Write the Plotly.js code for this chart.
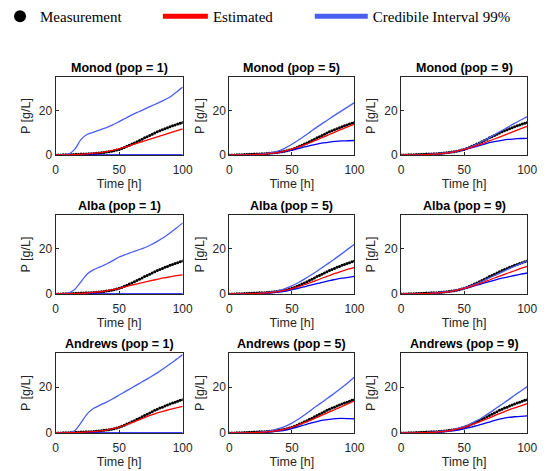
<!DOCTYPE html>
<html>
<head>
<meta charset="utf-8">
<script src="https://cdn.plot.ly/plotly-3.0.1.min.js"></script>
<style>html,body{margin:0;padding:0;background:#fff;}#chart{width:554px;height:471px;}</style>
</head>
<body>
<div id="chart"></div>
<script>
// ---- data ----
const panelTitles = ["Monod (pop = 1)", "Monod (pop = 5)", "Monod (pop = 9)",
                     "Alba (pop = 1)", "Alba (pop = 5)", "Alba (pop = 9)",
                     "Andrews (pop = 1)", "Andrews (pop = 5)", "Andrews (pop = 9)"];
const xTicks = [0, 50, 100];
const yTicks = [0, 20];

// measurement (same in every panel)
const tMeas = [0,2,4,6,8,10,12,14,16,18,20,22,24,26,28,30,32,34,36,38,40,42,44,46,48,50,
               52,54,56,58,60,62,64,66,68,70,72,74,76,78,80,82,84,86,88,90,92,94,96,98,100];
const pMeas = [0,0,0.05,0.1,0.1,0.15,0.2,0.25,0.3,0.35,0.4,0.45,0.5,0.55,0.6,0.7,0.8,0.9,1.0,1.15,1.3,1.45,1.65,1.9,2.2,2.5,
               2.9,3.4,3.9,4.4,4.9,5.4,6.0,6.5,7.1,7.7,8.2,8.8,9.3,9.9,10.4,10.9,11.3,11.8,12.2,12.7,13.1,13.5,13.9,14.3,14.6];

// model time grid
const tLine = [0,5,10,15,20,25,30,35,40,45,50,55,60,65,70,75,80,85,90,95,100];

// Monod
const monod1Est = [0,0.05,0.1,0.2,0.35,0.5,0.8,1.1,1.5,2.1,2.8,3.6,4.5,5.4,6.3,7.2,8.1,9.0,9.9,10.8,11.7];
const monod1Lo  = [0,0,0,0,0,0,0,0,0,0,0,0,0,0,0,0,0,0,0,0,0];
const monod1Hi  = [0,0,0.3,2.5,7,9.3,10.3,11.3,12.3,13.5,15,16.5,18,19.3,20.6,21.9,23.2,24.5,26,28.2,30.5];
const monod5Est = [0,0.02,0.05,0.1,0.2,0.3,0.5,0.8,1.2,1.8,2.6,3.5,4.5,5.6,6.8,8,9.2,10.4,11.6,12.7,13.8];
const monod5Lo  = [0,0,0.05,0.1,0.2,0.3,0.5,0.8,1.1,1.6,2.2,2.9,3.6,4.3,4.9,5.4,5.8,6.1,6.3,6.4,6.5];
const monod5Hi  = [0,0,0.05,0.1,0.2,0.4,0.7,1.2,2,3.2,4.8,6.6,8.5,10.5,12.5,14.4,16.3,18.1,19.9,21.7,23.5];
const monod9Est = [0,0,0.05,0.1,0.2,0.35,0.5,0.8,1.2,1.8,2.5,3.3,4.2,5.2,6.3,7.4,8.5,9.6,10.7,11.8,12.8];
const monod9Lo  = [0,0,0.05,0.1,0.2,0.35,0.5,0.8,1.2,1.7,2.4,3.1,3.9,4.7,5.5,6.1,6.6,7,7.2,7.4,7.5];
const monod9Hi  = [0,0,0.05,0.1,0.2,0.4,0.6,0.9,1.3,1.9,2.7,3.7,4.9,6.3,7.8,9.4,11,12.6,14.2,15.7,17.2];
// Alba
const alba1Est  = [0,0.05,0.1,0.2,0.3,0.45,0.7,1,1.4,1.9,2.5,3.2,3.9,4.6,5.3,5.9,6.5,7.1,7.6,8.1,8.5];
const alba1Lo   = [0,0,0,0,0,0,0,0,0,0,0,0,0,0,0,0,0,0,0,0,0];
const alba1Hi   = [0,0,0.4,2,5.5,9,10.8,12,13.3,14.8,16.4,17.5,18.5,19.5,20.5,21.8,23.3,25,27,29.2,31.5];
const alba5Est  = [0,0,0.05,0.1,0.2,0.35,0.5,0.8,1.2,1.7,2.4,3.2,4.1,5.1,6.1,7.2,8.2,9.2,10.1,11,11.8];
const alba5Lo   = [0,0,0.05,0.1,0.15,0.25,0.4,0.6,0.9,1.3,1.9,2.5,3.2,3.9,4.6,5.3,5.9,6.5,7,7.4,7.8];
const alba5Hi   = [0,0,0.05,0.1,0.2,0.35,0.6,1,1.6,2.5,3.6,5,6.6,8.3,10.1,12,13.9,15.9,17.9,20,22];
const alba9Est  = [0,0,0.05,0.1,0.2,0.35,0.5,0.8,1.2,1.8,2.5,3.3,4.2,5.2,6.2,7.3,8.3,9.3,10.3,11.3,12.2];
const alba9Lo   = [0,0,0.05,0.1,0.2,0.3,0.5,0.8,1.2,1.7,2.4,3.1,3.9,4.7,5.5,6.3,7,7.6,8.2,8.8,9.3];
const alba9Hi   = [0,0,0.05,0.1,0.2,0.4,0.6,0.9,1.3,1.9,2.7,3.6,4.6,5.8,7.1,8.4,9.7,11,12.3,13.5,14.7];
// Andrews
const andrews1Est = [0,0.05,0.1,0.2,0.3,0.45,0.6,0.9,1.3,1.9,2.6,3.5,4.5,5.6,6.7,7.8,8.8,9.6,10.3,11,11.7];
const andrews1Lo  = [0,0,0,0,0,0,0,0,0,0,0,0,0,0,0,0,0,0,0,0,0];
const andrews1Hi  = [0,0,0.1,1,4.5,8.5,10.8,12.2,13.5,15,16.6,18.2,19.8,21.4,23,24.6,26.3,28.2,30.2,32.2,34.3];
const andrews5Est = [0,0.02,0.05,0.1,0.2,0.3,0.5,0.8,1.2,1.8,2.6,3.5,4.5,5.6,6.8,8,9.2,10.4,11.6,12.8,14];
const andrews5Lo  = [0,0,0.05,0.1,0.15,0.25,0.4,0.6,0.9,1.3,1.9,2.7,3.5,4.3,5,5.6,6,6.3,6.4,6.3,6.2];
const andrews5Hi  = [0,0,0.05,0.1,0.2,0.4,0.7,1.2,2,3,4.3,6,7.9,9.9,11.9,13.8,15.8,17.8,19.9,22.1,24.5];
const andrews9Est = [0,0,0.05,0.1,0.2,0.3,0.5,0.8,1.2,1.8,2.5,3.4,4.4,5.5,6.6,7.8,8.9,10,11,11.9,12.8];
const andrews9Lo  = [0,0,0.05,0.1,0.15,0.25,0.4,0.6,0.9,1.3,1.8,2.5,3.2,4,4.8,5.6,6.3,6.8,7.1,7.3,7.5];
const andrews9Hi  = [0,0,0.05,0.1,0.2,0.4,0.6,0.9,1.4,2,2.9,4,5.4,7,8.8,10.7,12.6,14.5,16.5,18.4,20.3];

const estSeries = [monod1Est, monod5Est, monod9Est, alba1Est, alba5Est, alba9Est, andrews1Est, andrews5Est, andrews9Est];
const loSeries  = [monod1Lo, monod5Lo, monod9Lo, alba1Lo, alba5Lo, alba9Lo, andrews1Lo, andrews5Lo, andrews9Lo];
const hiSeries  = [monod1Hi, monod5Hi, monod9Hi, alba1Hi, alba5Hi, alba9Hi, andrews1Hi, andrews5Hi, andrews9Hi];

// ---- layout geometry (px) ----
const W = 554, H = 471;
const colPx = [[52, 180], [227, 353], [400, 527]];
const rowPx = [[77, 155], [215, 294], [353, 433]];

const traces = [];
const layout = {
  width: W, height: H,
  margin: {l: 0, r: 0, t: 0, b: 0},
  paper_bgcolor: '#ffffff', plot_bgcolor: '#ffffff',
  showlegend: true,
  annotations: [],
  font: {family: 'Liberation Sans, Arial, sans-serif', color: '#262626', size: 12}
};

const legendCommon = {
  orientation: 'h', xanchor: 'left', yanchor: 'top', y: 1,
  bgcolor: 'rgba(0,0,0,0)', borderwidth: 0, itemsizing: 'constant',
  font: {family: 'Liberation Serif, Times New Roman, serif', size: 15, color: '#000'}
};
layout.legend  = Object.assign({}, legendCommon, {x: -4 / W});
layout.legend2 = Object.assign({}, legendCommon, {x: 155 / W, itemwidth: 45});
layout.legend3 = Object.assign({}, legendCommon, {x: 308 / W, itemwidth: 53});

for (let i = 0; i < 9; i++) {
  const r = Math.floor(i / 3), c = i % 3;
  const sfx = i === 0 ? '' : String(i + 1);
  const xa = 'x' + sfx, ya = 'y' + sfx;
  const xd = [colPx[c][0] / W, colPx[c][1] / W];
  const yd = [1 - rowPx[r][1] / H, 1 - rowPx[r][0] / H];
  const axCommon = {
    showline: true, mirror: true, linecolor: '#262626', linewidth: 1,
    ticks: 'inside', ticklen: 3, tickcolor: '#262626',
    showgrid: false, zeroline: false,
    tickfont: {family: 'Liberation Sans, Arial, sans-serif', size: 12, color: '#262626'}
  };
  layout['xaxis' + sfx] = Object.assign({}, axCommon, {
    domain: xd, anchor: ya, range: [0, 100], tickvals: xTicks, ticktext: xTicks.map(String),
    ticklabelstandoff: 4,
    title: {text: 'Time [h]', font: {size: 12.5, color: '#262626'}, standoff: 1}
  });
  layout['yaxis' + sfx] = Object.assign({}, axCommon, {
    domain: yd, anchor: xa, range: [0, 35], tickvals: yTicks, ticktext: yTicks.map(String),
    title: {text: 'P [g/L]', font: {size: 12.5, color: '#262626'}, standoff: 5}
  });
  layout.annotations.push({
    text: '<b>' + panelTitles[i] + '</b>', xref: 'paper', yref: 'paper',
    x: (xd[0] + xd[1]) / 2, y: yd[1] + 9 / H, xanchor: 'center', yanchor: 'middle',
    showarrow: false, font: {family: 'Liberation Sans, Arial, sans-serif', size: 12.5, color: '#000'}
  });

  traces.push({
    type: 'scatter', mode: 'markers', x: tMeas, y: pMeas, xaxis: xa, yaxis: ya,
    name: 'Measurement', legend: 'legend', showlegend: i === 0,
    marker: {color: '#000', size: 3, symbol: 'circle', line: {width: 0}}
  });
  traces.push({
    type: 'scatter', mode: 'lines', x: tLine, y: loSeries[i], xaxis: xa, yaxis: ya,
    name: 'Credibile Interval 99%', legend: 'legend3', showlegend: false,
    line: {color: '#0000ff', width: 1.3, shape: 'spline', smoothing: 0.6}
  });
  traces.push({
    type: 'scatter', mode: 'lines', x: tLine, y: hiSeries[i], xaxis: xa, yaxis: ya,
    name: 'Credibile Interval 99%', legend: 'legend3', showlegend: i === 0,
    line: {color: '#4a5ff0', width: 1.3, shape: 'spline', smoothing: 0.6}
  });
  traces.push({
    type: 'scatter', mode: 'lines', x: tLine, y: estSeries[i], xaxis: xa, yaxis: ya,
    name: 'Estimated', legend: 'legend2', showlegend: i === 0,
    line: {color: '#ff0000', width: 1.3, shape: 'spline', smoothing: 0.6}
  });
}

Plotly.newPlot('chart', traces, layout, {staticPlot: true, displayModeBar: false});
</script>
</body>
</html>
